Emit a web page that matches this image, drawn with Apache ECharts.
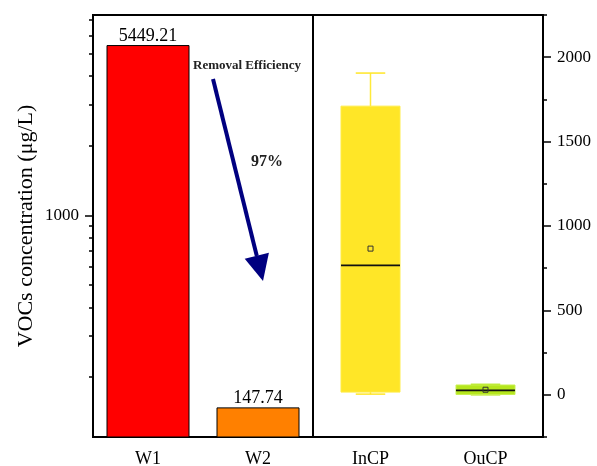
<!DOCTYPE html>
<html>
<head>
<meta charset="utf-8">
<script src="https://cdn.jsdelivr.net/npm/echarts@6/dist/echarts.min.js"></script>
<style>html,body{margin:0;padding:0;background:#fff}#c{width:597px;height:466px}</style>
</head>
<body>
<div id="c"></div>
<script>
// ---- data ----
var barCategories = ['W1', 'W2'];
var barValues = [5449.21, 147.74];
var boxCategories = ['InCP', 'OuCP'];
// [categoryIndex, min, Q1, median, Q3, max, mean]
var boxValues = [
  [0, 4, 16, 767, 1710, 1906, 866],
  [1, 0, 2, 26, 58, 62, 30]
];
var leftMajorTicks = [1000];
var leftMinorTicks = [200, 300, 400, 500, 600, 700, 800, 900, 2000, 3000, 4000, 5000, 6000, 7000];
var rightMajorTicks = [0, 500, 1000, 1500, 2000];
var yTitle = 'VOCs concentration (\u03bcg/L)';
var arrowText = 'Removal Efficiency';
var pctText = '97%';

// ---- style ----
var FONT = 'Liberation Serif';
var barColors = ['#FF0000', '#FF8000'];
var boxFill = ['#FFE627', '#B5E61D'];
var boxEdge = ['#FFEC45', '#C8F050'];
var whiskerColor = ['#FFEA3A', '#3a3a1a'];

var chart = echarts.init(document.getElementById('c'), null, {renderer: 'canvas'});

var gridLeft = {left: 93, right: 284, top: 15, bottom: 29, outerBoundsMode: 'none', containLabel: false, show: true, borderColor: '#000', borderWidth: 2, backgroundColor: 'transparent'};
var gridRight = {left: 313, right: 54, top: 15, bottom: 29, outerBoundsMode: 'none', containLabel: false, show: true, borderColor: '#000', borderWidth: 2, backgroundColor: 'transparent'};

var option = {
  animation: false,
  backgroundColor: '#fff',
  grid: [gridLeft, gridRight],
  xAxis: [
    {type: 'category', gridIndex: 0, data: barCategories,
     axisLine: {onZero: false, lineStyle: {color: '#000', width: 2}},
     axisTick: {alignWithLabel: true, length: 8, lineStyle: {color: '#000', width: 1.5}},
     axisLabel: {color: '#000', fontFamily: FONT, fontSize: 18, margin: 13}},
    {type: 'category', gridIndex: 0, data: barCategories,
     axisLine: {show: false, onZero: false},
     axisTick: {length: 4, lineStyle: {color: '#000', width: 1.5}},
     axisLabel: {show: false}},
    {type: 'category', gridIndex: 1, data: boxCategories,
     axisLine: {onZero: false, lineStyle: {color: '#000', width: 2}},
     axisTick: {alignWithLabel: true, length: 8, lineStyle: {color: '#000', width: 1.5}},
     axisLabel: {color: '#000', fontFamily: FONT, fontSize: 18, margin: 13}}
  ],
  yAxis: [
    {type: 'log', gridIndex: 0, position: 'left', min: 110, max: 7350, logBase: 10,
     name: yTitle, nameLocation: 'middle', nameGap: 56,
     nameTextStyle: {color: '#000', fontFamily: FONT, fontSize: 22},
     axisLine: {show: true, onZero: false, lineStyle: {color: '#000', width: 2}},
     axisTick: {show: true, length: 4, customValues: leftMinorTicks, lineStyle: {color: '#000', width: 1.5}},
     axisLabel: {color: '#000', fontFamily: FONT, fontSize: 17, margin: 14, customValues: leftMajorTicks,
       formatter: function (v) { return String(Math.round(v)); }},
     splitLine: {show: false}},
    {type: 'log', gridIndex: 0, position: 'left', min: 110, max: 7350, logBase: 10,
     axisLine: {show: false, onZero: false},
     axisTick: {show: true, length: 8, customValues: leftMajorTicks, lineStyle: {color: '#000', width: 1.5}},
     axisLabel: {show: false},
     splitLine: {show: false}},
    {type: 'value', gridIndex: 1, position: 'right', min: -250, max: 2250, interval: 250,
     axisLine: {show: true, onZero: false, lineStyle: {color: '#000', width: 2}},
     axisTick: {show: true, length: 4, lineStyle: {color: '#000', width: 1.5}},
     axisLabel: {color: '#000', fontFamily: FONT, fontSize: 17, margin: 14,
       formatter: function (v) { return (v >= 0 && v % 500 === 0) ? String(v) : ''; }},
     splitLine: {show: false}},
    {type: 'value', gridIndex: 1, position: 'right', min: -250, max: 2250, interval: 250,
     axisLine: {show: false, onZero: false},
     axisTick: {show: true, length: 8, customValues: rightMajorTicks, lineStyle: {color: '#000', width: 1.5}},
     axisLabel: {show: false},
     splitLine: {show: false}}
  ],
  series: [
    {type: 'bar', xAxisIndex: 0, yAxisIndex: 0, barWidth: 83, clip: true,
     data: barValues.map(function (v, i) {
       return {value: v, itemStyle: {color: barColors[i], borderColor: '#000', borderWidth: 1}};
     }),
     label: {show: true, position: 'top', distance: 0, color: '#000', fontFamily: FONT, fontSize: 18,
       formatter: function (p) { return p.value.toFixed(2); }}},
    {type: 'custom', xAxisIndex: 2, yAxisIndex: 2, data: boxValues, clip: false,
     renderItem: function (params, api) {
       var i = params.dataIndex;
       var x = api.value(0);
       var pMin = api.coord([x, api.value(1)]);
       var pQ1 = api.coord([x, api.value(2)]);
       var pMed = api.coord([x, api.value(3)]);
       var pQ3 = api.coord([x, api.value(4)]);
       var pMax = api.coord([x, api.value(5)]);
       var pMean = api.coord([x, api.value(6)]);
       var bw = api.size([1, 0])[0] * 0.513;
       var cw = bw / 2;
       var cx = pMed[0];
       var wc = whiskerColor[i];
       return {type: 'group', children: [
         {type: 'line', shape: {x1: cx, y1: pQ3[1], x2: cx, y2: pMax[1]}, style: {stroke: wc, lineWidth: 1.5}},
         {type: 'line', shape: {x1: cx - cw / 2, y1: pMax[1], x2: cx + cw / 2, y2: pMax[1]}, style: {stroke: boxFill[i], lineWidth: 1.5}},
         {type: 'line', shape: {x1: cx, y1: pQ1[1], x2: cx, y2: pMin[1]}, style: {stroke: wc, lineWidth: 1.5}},
         {type: 'line', shape: {x1: cx - cw / 2, y1: pMin[1], x2: cx + cw / 2, y2: pMin[1]}, style: {stroke: boxFill[i], lineWidth: 1.5}},
         {type: 'rect', shape: {x: cx - bw / 2, y: pQ3[1], width: bw, height: pQ1[1] - pQ3[1]},
          style: {fill: boxFill[i], stroke: boxEdge[i], lineWidth: 1}},
         {type: 'line', shape: {x1: cx - bw / 2, y1: pMed[1], x2: cx + bw / 2, y2: pMed[1]}, style: {stroke: '#111', lineWidth: 1.8}},
         {type: 'rect', shape: {x: cx - 2.5, y: pMean[1] - 2.5, width: 5, height: 5},
          style: {fill: 'none', stroke: '#333', lineWidth: 1}}
       ]};
     }}
  ],
  graphic: [
    {type: 'text', left: 193, top: 59, style: {text: arrowText, fill: '#222', font: 'bold 13px "Liberation Serif"'}},
    {type: 'line', shape: {x1: 213, y1: 79, x2: 256.8, y2: 256}, style: {stroke: '#000080', lineWidth: 4}},
    {type: 'polygon', shape: {points: [[244.7, 258.8], [268.9, 252.8], [263, 281]]}, style: {fill: '#000080'}},
    {type: 'text', left: 251, top: 154, style: {text: pctText, fill: '#222', font: 'bold 16px "Liberation Serif"'}}
  ]
};
chart.setOption(option);
</script>
</body>
</html>
